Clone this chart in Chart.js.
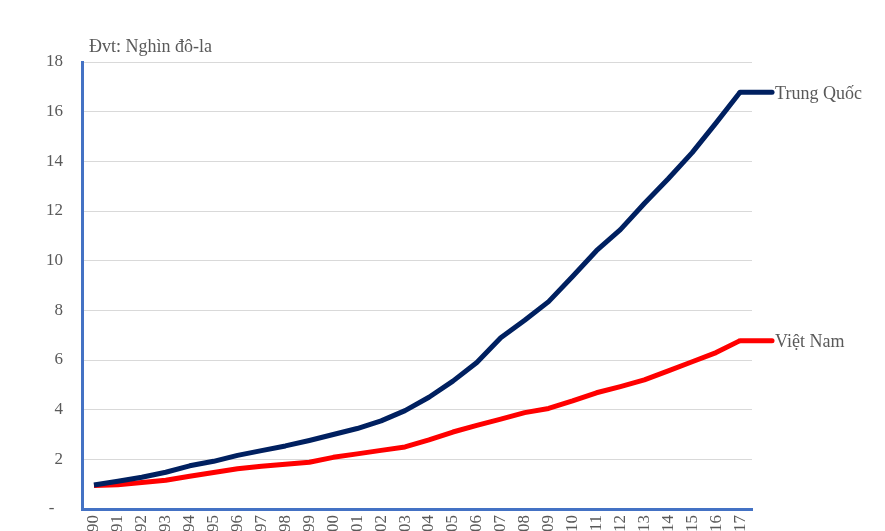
<!DOCTYPE html>
<html>
<head>
<meta charset="utf-8">
<script src="https://cdn.jsdelivr.net/npm/chart.js@4"></script>
<style>
  html, body { margin: 0; padding: 0; background: #fff; overflow: hidden; }
  #wrap { width: 885px; height: 569px; }
</style>
</head>
<body>
<div id="wrap"><canvas id="myChart"></canvas></div>
<script>
// Dữ liệu
const years = ["1990","1991","1992","1993","1994","1995","1996","1997","1998","1999",
  "2000","2001","2002","2003","2004","2005","2006","2007","2008","2009",
  "2010","2011","2012","2013","2014","2015","2016","2017"];
const trungQuoc = [0.97, 1.12, 1.28, 1.48, 1.74, 1.92, 2.16, 2.35, 2.54, 2.76,
  3.0, 3.24, 3.55, 3.96, 4.5, 5.15, 5.9, 6.9, 7.6, 8.35,
  9.36, 10.4, 11.25, 12.3, 13.3, 14.35, 15.55, 16.78];
const vietNam = [0.95, 0.98, 1.07, 1.16, 1.32, 1.47, 1.62, 1.72, 1.8, 1.88,
  2.08, 2.22, 2.36, 2.5, 2.78, 3.1, 3.37, 3.62, 3.88, 4.05,
  4.35, 4.68, 4.93, 5.2, 5.56, 5.93, 6.3, 6.78];
const yTicks = [0, 2, 4, 6, 8, 10, 12, 14, 16, 18];
const unitLabel = "Đvt: Nghìn đô-la";

const serif = "'Liberation Serif', 'Times New Roman', serif";

// Nhãn cuối đường + tiêu đề đơn vị
const endLabels = {
    id: 'endLabels',
    afterDatasetsDraw(chart) {
        const ctx = chart.ctx;
        ctx.save();
        chart.data.datasets.forEach((ds, i) => {
            const meta = chart.getDatasetMeta(i);
            const last = meta.data[meta.data.length - 1];
            ctx.strokeStyle = ds.borderColor;
            ctx.lineWidth = ds.borderWidth;
            ctx.lineCap = 'round';
            ctx.beginPath();
            ctx.moveTo(last.x, last.y);
            ctx.lineTo(last.x + 32, last.y);
            ctx.stroke();
            ctx.fillStyle = '#595959';
            ctx.font = "18px " + serif;
            ctx.textBaseline = 'middle';
            ctx.fillText(ds.label, last.x + 35, last.y + 2);
        });
        ctx.fillStyle = '#595959';
        ctx.font = "18px " + serif;
        ctx.textBaseline = 'alphabetic';
        ctx.fillText(unitLabel, chart.chartArea.left + 7, chart.chartArea.top - 10);
        ctx.restore();
    }
};

new Chart(document.getElementById("myChart"), {
    type: 'line',
    data: {
        labels: years,
        datasets: [{
            label: 'Trung Quốc',
            data: trungQuoc,
            borderColor: '#002060',
            borderWidth: 5,
            pointRadius: 0,
            tension: 0,
            borderJoinStyle: 'round'
        }, {
            label: 'Việt Nam',
            data: vietNam,
            borderColor: '#ff0000',
            borderWidth: 5,
            pointRadius: 0,
            tension: 0,
            borderJoinStyle: 'round'
        }]
    },
    options: {
        responsive: true,
        maintainAspectRatio: false,
        animation: false,
        layout: { padding: { top: 62, right: 133, left: 0, bottom: 0 } },
        plugins: { legend: { display: false }, tooltip: { enabled: false } },
        scales: {
            x: {
                offset: true,
                grid: { display: false, drawTicks: false },
                border: { color: '#4472c4', width: 3 },
                ticks: {
                    color: '#595959',
                    font: { family: serif, size: 17 },
                    maxRotation: 90,
                    minRotation: 90,
                    autoSkip: false,
                    padding: 6
                },
                afterFit: s => { s.height = 60; }
            },
            y: {
                min: 0,
                max: 18,
                afterBuildTicks: s => { s.ticks = yTicks.map(v => ({ value: v })); },
                grid: { color: '#d9d9d9', lineWidth: 1, drawTicks: false },
                border: { color: '#4472c4', width: 3 },
                ticks: {
                    color: '#595959',
                    font: { family: serif, size: 17 },
                    padding: 19,
                    callback: v => v === 0 ? '-  ' : v
                },
                afterFit: s => { s.width = 82; }
            }
        }
    },
    plugins: [endLabels]
});
</script>
</body>
</html>
